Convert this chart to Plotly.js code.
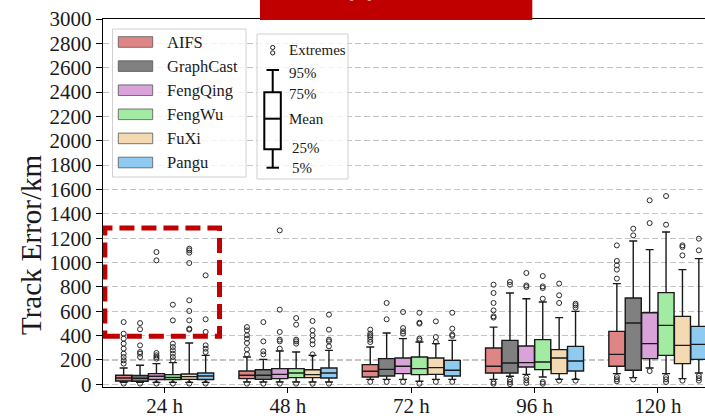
<!DOCTYPE html>
<html>
<head>
<meta charset="utf-8">
<script src="https://cdn.plot.ly/plotly-3.0.1.min.js"></script>
<style>
  html, body { margin: 0; padding: 0; background: #ffffff; }
  #chart { width: 705px; height: 419px; }
</style>
</head>
<body>
<div id="chart"></div>
<script>
// Lead times on the x axis and the six forecast models
const leadTimes = ['24 h', '48 h', '72 h', '96 h', '120 h'];
const models = ['AIFS', 'GraphCast', 'FengQing', 'FengWu', 'FuXi', 'Pangu'];
const colors = ['#E08585', '#808080', '#D9A3D9', '#A3EBA3', '#F4DAB2', '#8FCBF0'];

// Track error statistics (km), one row per model, one column per lead time
const p05 = [
  [16, 19, 41, 41, 88],
  [16, 19, 41, 66, 55],
  [16, 19, 41, 82, 134],
  [16, 19, 25, 60, 88],
  [16, 19, 41, 41, 47],
  [16, 19, 41, 41, 93]
];
const q1 = [
  [27, 47, 60, 93, 148],
  [25, 41, 68, 93, 115],
  [39, 47, 88, 142, 211],
  [39, 55, 80, 121, 238],
  [41, 55, 82, 88, 170],
  [39, 52, 68, 109, 205]
];
const med = [
  [52, 74, 107, 148, 246],
  [50, 74, 123, 175, 503],
  [66, 82, 148, 178, 334],
  [57, 93, 129, 183, 484],
  [63, 80, 137, 216, 320],
  [68, 93, 115, 191, 328]
];
const q3 = [
  [74, 109, 162, 298, 435],
  [72, 120, 211, 361, 709],
  [88, 129, 216, 315, 588],
  [80, 129, 224, 367, 753],
  [85, 120, 216, 285, 558],
  [93, 134, 197, 312, 476]
];
const p95 = [
  [134, 224, 306, 470, 827],
  [156, 205, 421, 750, 1177],
  [170, 274, 375, 703, 1106],
  [178, 265, 347, 676, 1251],
  [339, 238, 334, 548, 942],
  [238, 279, 361, 599, 1032]
];
// Cases outside the 5%-95% range
const extremes = [
  [[170, 197, 224, 252, 293, 334, 375, 416, 511, 6], [246, 287, 339, 375, 402, 443, 470, 5], [347, 367, 388, 402, 416, 449, 20], [548, 558, 607, 668, 750, 818, 19, 5], [868, 942, 977, 1013, 1141, 60, 41, 25]],
  [[224, 252, 265, 320, 452, 503, 6], [246, 271, 353, 511, 5], [534, 668, 20], [818, 840, 39, 19, 2], [1223, 1278, 40]],
  [[211, 224, 238, 257, 1018, 1086, 6], [293, 353, 367, 430, 613, 1264, 5], [416, 435, 462, 594, 20], [799, 812, 914, 55, 33, 11], [1324, 1511, 109]],
  [[197, 224, 252, 279, 306, 334, 525, 654, 6], [334, 353, 367, 490, 544, 5], [361, 375, 498, 506, 588, 5], [703, 791, 804, 889, 19, 5], [1311, 1546, 60, 41, 19]],
  [[449, 457, 525, 602, 690, 996, 1081, 1100, 1114, 6], [246, 328, 361, 402, 443, 520, 5], [347, 388, 517, 20], [668, 731, 827, 30], [1059, 1128, 1141, 30]],
  [[265, 293, 320, 430, 534, 895, 6], [312, 353, 367, 449, 572, 5], [397, 408, 457, 588, 20], [630, 649, 662, 30], [1100, 1196, 70, 50, 30]]
];

const FONT = 'Liberation Serif, Times New Roman, Times, serif';
const W = 705, H = 419, ML = 103, MR = 0, MT = 19, MB = 32;
const plotW = W - ML - MR, plotH = H - MT - MB;
// pixel -> paper helpers for the decorations drawn around the axes
const px = v => (v - ML) / plotW;
const py = v => (H - MB - v) / plotH;

const boxStep = 0.133, boxWidth = 0.13;
const traces = [];
models.forEach((name, i) => {
  const off = (i - (models.length - 1) / 2) * boxStep;
  const xs = leadTimes.map((_, j) => j + off);
  traces.push({
    type: 'box', name: name, x: xs,
    lowerfence: p05[i], q1: q1[i], median: med[i], q3: q3[i], upperfence: p95[i],
    width: boxWidth, whiskerwidth: 0.5,
    fillcolor: colors[i],
    line: { color: '#1a1a1a', width: 1.4 },
    hoverinfo: 'skip'
  });
  const ox = [], oy = [];
  extremes[i].forEach((vals, j) => vals.forEach(v => { ox.push(j + off); oy.push(v); }));
  traces.push({
    type: 'scatter', mode: 'markers', x: ox, y: oy, cliponaxis: true,
    marker: { symbol: 'circle-open', size: 5, color: '#2a2a2a', line: { width: 1 } },
    hoverinfo: 'skip'
  });
});

const shapes = [];
const annotations = [];

// Highlight of the 24 h extremes
shapes.push({
  type: 'rect', xref: 'x', yref: 'y', x0: -0.485, x1: 0.445, y0: 394, y1: 1283,
  line: { color: '#C00000', width: 5, dash: '15px,7px' }, layer: 'above'
});

// Model legend
shapes.push({
  type: 'rect', xref: 'paper', yref: 'paper', x0: px(112.5), x1: px(246), y0: py(177), y1: py(29),
  line: { color: '#d0d0d0', width: 1 }, fillcolor: 'rgba(255,255,255,0.8)', layer: 'above'
});
models.forEach((name, k) => {
  const cy = 42 + k * 24.1;
  shapes.push({
    type: 'rect', xref: 'paper', yref: 'paper', x0: px(118.3), x1: px(152.7), y0: py(cy + 5.3), y1: py(cy - 5.3),
    line: { color: '#555555', width: 0.8 }, fillcolor: colors[k], layer: 'above'
  });
  annotations.push({
    xref: 'paper', yref: 'paper', x: px(165), y: py(cy), xanchor: 'left', yanchor: 'middle',
    text: name, showarrow: false, font: { family: FONT, size: 16.5, color: '#1a1a1a' }
  });
});

// Box anatomy key
shapes.push({
  type: 'rect', xref: 'paper', yref: 'paper', x0: px(257), x1: px(348), y0: py(179), y1: py(34),
  line: { color: '#d0d0d0', width: 1 }, fillcolor: 'rgba(255,255,255,0.8)', layer: 'above'
});
[47.5, 52.9].forEach(cy => shapes.push({
  type: 'circle', xref: 'paper', yref: 'paper', x0: px(270.6), x1: px(274.8), y0: py(cy + 2.1), y1: py(cy - 2.1),
  line: { color: '#1a1a1a', width: 1 }, layer: 'above'
}));
const keyLine = (x0, y0, x1, y1) => shapes.push({
  type: 'line', xref: 'paper', yref: 'paper', x0: px(x0), x1: px(x1), y0: py(y0), y1: py(y1),
  line: { color: '#000', width: 2 }, layer: 'above'
});
keyLine(272.7, 70, 272.7, 92.3);
keyLine(272.7, 149.3, 272.7, 167.7);
keyLine(266.5, 70, 279, 70);
keyLine(266.5, 167.7, 279, 167.7);
shapes.push({
  type: 'rect', xref: 'paper', yref: 'paper', x0: px(264.3), x1: px(280.8), y0: py(149.3), y1: py(92.3),
  line: { color: '#000', width: 2 }, layer: 'above'
});
keyLine(264.3, 118.7, 280.8, 118.7);
[['Extremes', 286.5, 50], ['95%', 286.5, 72.7], ['75%', 286.5, 94], ['Mean', 286.5, 119.3], ['25%', 289.5, 147.7], ['5%', 289.5, 167.7]]
  .forEach(([t, x, y]) => annotations.push({
    xref: 'paper', yref: 'paper', x: px(x), y: py(y), xanchor: 'left', yanchor: 'middle',
    text: t, showarrow: false, font: { family: FONT, size: 15, color: '#1a1a1a' }
  }));

// Panel title badge
shapes.push({
  type: 'rect', xref: 'paper', yref: 'paper', x0: px(260), x1: px(532.3), y0: py(20), y1: py(-40),
  line: { width: 0 }, fillcolor: '#C00000', layer: 'above'
});
annotations.push({
  xref: 'paper', yref: 'paper', x: px(390), y: py(-15.5), xanchor: 'center', yanchor: 'middle',
  text: '<b>WNP</b>', showarrow: false, font: { family: FONT, size: 46, color: '#ffffff' }
});

// Y axis label
annotations.push({
  xref: 'paper', yref: 'paper', x: px(31), y: py(245), xanchor: 'center', yanchor: 'middle',
  text: 'Track Error/km', textangle: -90, showarrow: false,
  font: { family: FONT, size: 29, color: '#1a1a1a' }
});

const layout = {
  width: W, height: H,
  margin: { l: ML, r: MR, t: MT, b: MB, pad: 0 },
  paper_bgcolor: '#ffffff', plot_bgcolor: '#ffffff',
  showlegend: false, boxmode: 'overlay', hovermode: false,
  font: { family: FONT, color: '#1a1a1a' },
  xaxis: {
    range: [-0.5, -0.5 + plotW / 123.3],
    tickvals: leadTimes.map((_, j) => j), ticktext: leadTimes,
    showgrid: false, zeroline: false,
    showline: true, linecolor: '#000', linewidth: 1.2, mirror: true,
    ticks: 'outside', ticklen: 5, tickcolor: '#000', tickwidth: 1,
    ticklabelstandoff: -5,
    tickfont: { family: FONT, size: 21, color: '#1a1a1a' }
  },
  yaxis: {
    range: [-22, 3000], tick0: 0, dtick: 200,
    showgrid: true, gridcolor: '#c4c4c4', gridwidth: 1.1, griddash: '6px,3px',
    zeroline: false, showline: true, linecolor: '#000', linewidth: 1.2,
    ticks: 'outside', ticklen: 6, tickcolor: '#000', tickwidth: 1,
    tickfont: { family: FONT, size: 21, color: '#1a1a1a' }
  },
  shapes: shapes,
  annotations: annotations
};

Plotly.newPlot('chart', traces, layout, { staticPlot: true, displayModeBar: false });
</script>
</body>
</html>
